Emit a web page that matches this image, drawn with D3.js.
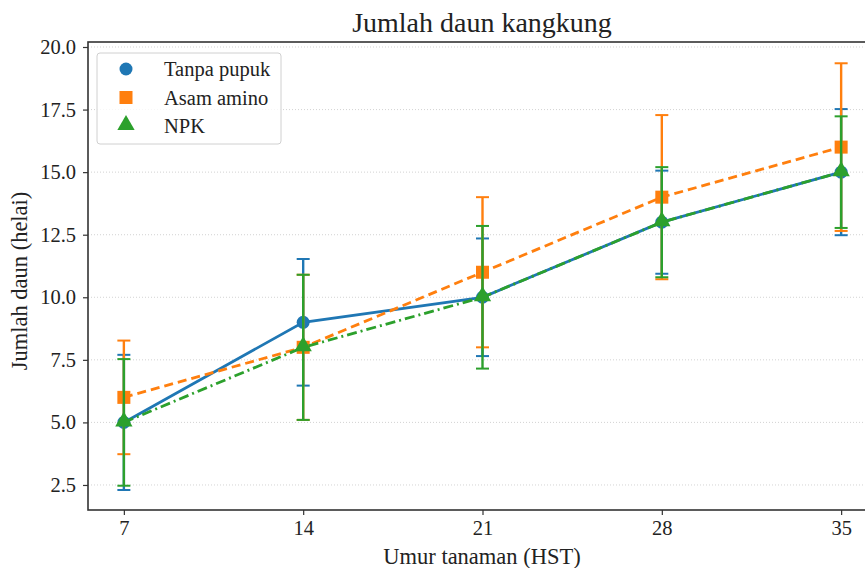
<!DOCTYPE html>
<html>
<head>
<meta charset="utf-8">
<script src="https://cdn.jsdelivr.net/npm/d3@7"></script>
<style>
  body { margin: 0; background: #fff; }
  text { font-family: "Liberation Serif", "DejaVu Serif", serif; fill: #222; }
</style>
</head>
<body>
<div id="chart"></div>
<script>
// data
const days = [7, 14, 21, 28, 35];
const tanpaPupuk = [5, 9, 10, 13, 15];
const tanpaPupukErr = [2.7, 2.53, 2.35, 2.06, 2.52];
const asamAmino = [6, 8, 11, 14, 16];
const asamAminoErr = [2.27, 2.9, 3.0, 3.28, 3.35];
const npk = [5, 8, 10, 13, 15];
const npkErr = [2.53, 2.9, 2.85, 2.2, 2.23];
const yTicks = [2.5, 5.0, 7.5, 10.0, 12.5, 15.0, 17.5, 20.0];

const series = [
  { name: 'Tanpa pupuk', values: tanpaPupuk, err: tanpaPupukErr, color: '#1f77b4', dash: null, marker: 'circle' },
  { name: 'Asam amino', values: asamAmino, err: asamAminoErr, color: '#ff7f0e', dash: '9,5', marker: 'square' },
  { name: 'NPK', values: npk, err: npkErr, color: '#2ca02c', dash: '10,4,2,4', marker: 'triangle' }
];

const W = 865, H = 568;
const margin = { top: 42, right: -12, bottom: 58, left: 88 };
const innerW = W - margin.left - margin.right;
const innerH = H - margin.top - margin.bottom;

const svg = d3.select('#chart').append('svg')
  .attr('width', W)
  .attr('height', H);

const g = svg.append('g')
  .attr('transform', 'translate(' + margin.left + ',' + margin.top + ')');

const x = d3.scaleLinear().domain([5.6, 36.4]).range([0, innerW]);
const y = d3.scaleLinear().domain([1.5, 20.2]).range([innerH, 0]);

// grid
g.selectAll('line.grid').data(yTicks)
  .join('line')
  .attr('class', 'grid')
  .attr('x1', 0).attr('x2', innerW)
  .attr('y1', d => y(d)).attr('y2', d => y(d))
  .attr('stroke', '#c8c8c8')
  .attr('stroke-width', 0.8)
  .attr('stroke-dasharray', '1,2');

// axes
const xAxis = d3.axisBottom(x).tickValues(days).tickSize(5).tickPadding(5).tickFormat(d3.format('d'));
const yAxis = d3.axisLeft(y).tickValues(yTicks).tickSize(5).tickPadding(7).tickFormat(d3.format('.1f'));

const xAxisG = g.append('g').attr('transform', 'translate(0,' + innerH + ')').call(xAxis);
const yAxisG = g.append('g').call(yAxis);
[xAxisG, yAxisG].forEach(a => {
  a.select('.domain').remove();
  a.selectAll('line').attr('stroke', '#333').attr('stroke-width', 1.2);
  a.selectAll('text').style('font-size', '20.5px').attr('fill', '#222');
});

// frame (spines)
g.append('rect')
  .attr('x', 0).attr('y', 0)
  .attr('width', innerW).attr('height', innerH)
  .attr('fill', 'none')
  .attr('stroke', '#333')
  .attr('stroke-width', 1.6);

// series
const line = d3.line().x(d => x(d[0])).y(d => y(d[1]));
const triangle = d3.symbol().type(d3.symbolTriangle).size(130);

function drawMarker(sel, type, color) {
  if (type === 'circle') {
    sel.append('circle').attr('r', 6.5).attr('fill', color);
  } else if (type === 'square') {
    sel.append('rect').attr('x', -6.5).attr('y', -6.5).attr('width', 13).attr('height', 13).attr('fill', color);
  } else {
    sel.append('path').attr('d', triangle).attr('transform', 'translate(0,-1)').attr('fill', color);
  }
}

series.forEach(s => {
  const gs = g.append('g').attr('class', 'series');
  const pts = days.map((d, i) => [d, s.values[i], s.err[i]]);

  // error bars
  gs.selectAll('line.err').data(pts)
    .join('line')
    .attr('x1', d => x(d[0])).attr('x2', d => x(d[0]))
    .attr('y1', d => y(d[1] - d[2])).attr('y2', d => y(d[1] + d[2]))
    .attr('stroke', s.color).attr('stroke-width', 2.4);
  gs.selectAll('line.capTop').data(pts)
    .join('line')
    .attr('x1', d => x(d[0]) - 6.5).attr('x2', d => x(d[0]) + 6.5)
    .attr('y1', d => y(d[1] + d[2])).attr('y2', d => y(d[1] + d[2]))
    .attr('stroke', s.color).attr('stroke-width', 2);
  gs.selectAll('line.capBot').data(pts)
    .join('line')
    .attr('x1', d => x(d[0]) - 6.5).attr('x2', d => x(d[0]) + 6.5)
    .attr('y1', d => y(d[1] - d[2])).attr('y2', d => y(d[1] - d[2]))
    .attr('stroke', s.color).attr('stroke-width', 2);

  gs.append('path')
    .datum(pts)
    .attr('d', line)
    .attr('fill', 'none')
    .attr('stroke', s.color)
    .attr('stroke-width', 2.8)
    .attr('stroke-dasharray', s.dash);

  gs.selectAll('g.pt').data(pts)
    .join('g')
    .attr('transform', d => 'translate(' + x(d[0]) + ',' + y(d[1]) + ')')
    .each(function () { drawMarker(d3.select(this), s.marker, s.color); });
});

// legend
const lg = g.append('g').attr('transform', 'translate(9,11)');
lg.append('rect')
  .attr('width', 184).attr('height', 91)
  .attr('rx', 3)
  .attr('fill', 'white').attr('fill-opacity', 0.8)
  .attr('stroke', '#d0d0d0');
series.forEach((s, i) => {
  const row = lg.append('g').attr('transform', 'translate(0,' + (16 + i * 28.5) + ')');
  drawMarker(row.append('g').attr('transform', 'translate(29,0)'), s.marker, s.color);
  row.append('text')
    .attr('x', 67).attr('y', 7)
    .style('font-size', '20.5px')
    .text(s.name);
});

// titles
svg.append('text')
  .attr('x', 482).attr('y', 32)
  .attr('text-anchor', 'middle')
  .style('font-size', '28px')
  .text('Jumlah daun kangkung');

svg.append('text')
  .attr('x', 482).attr('y', 564)
  .attr('text-anchor', 'middle')
  .style('font-size', '22.5px')
  .text('Umur tanaman (HST)');

svg.append('text')
  .attr('transform', 'translate(27,281) rotate(-90)')
  .attr('text-anchor', 'middle')
  .style('font-size', '22.5px')
  .text('Jumlah daun (helai)');
</script>
</body>
</html>
